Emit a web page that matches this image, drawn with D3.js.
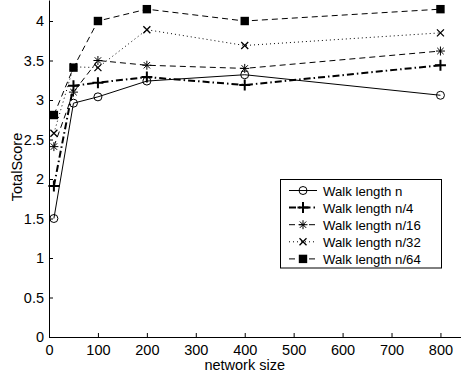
<!DOCTYPE html>
<html>
<head>
<meta charset="utf-8">
<script src="https://cdn.jsdelivr.net/npm/d3@7"></script>
<style>
  html, body { margin: 0; padding: 0; background: #fff; }
  svg { display: block; font-family: "Liberation Sans", Arial, sans-serif; }
</style>
</head>
<body>
<div id="chart"></div>
<script>
// network sizes on the x axis
const networkSizes = [10, 50, 100, 200, 400, 800];

// TotalScore for each walk length
const walkN = [1.50, 2.96, 3.04, 3.24, 3.32, 3.06];
const walkN4 = [1.91, 3.18, 3.22, 3.29, 3.19, 3.44];
const walkN16 = [2.41, 3.10, 3.50, 3.44, 3.40, 3.62];
const walkN32 = [2.58, 3.42, 3.41, 3.89, 3.69, 3.85];
const walkN64 = [2.81, 3.41, 4.00, 4.15, 4.00, 4.15];

const seriesNames = ['Walk length n', 'Walk length n/4', 'Walk length n/16', 'Walk length n/32', 'Walk length n/64'];

const xTicks = [0, 100, 200, 300, 400, 500, 600, 700, 800];
const yTicks = [0, 0.5, 1, 1.5, 2, 2.5, 3, 3.5, 4];

const width = 461, height = 376;
const margin = { left: 49, bottom: 337 };

const svg = d3.select('#chart').append('svg')
  .attr('width', width)
  .attr('height', height);

// axes run off the picture on the top and right side (cropped figure)
const x = d3.scaleLinear().domain([0, 842]).range([margin.left, 461]);
const y = d3.scaleLinear().domain([0, 4.266]).range([margin.bottom, 0]);

const series = [
  { name: seriesNames[0], values: walkN, dash: null, width: 1, marker: 'circle' },
  { name: seriesNames[1], values: walkN4, dash: '7,3,1.5,3', width: 2, marker: 'plus' },
  { name: seriesNames[2], values: walkN16, dash: '6,4', width: 1, marker: 'star' },
  { name: seriesNames[3], values: walkN32, dash: '1,3', width: 1, marker: 'cross' },
  { name: seriesNames[4], values: walkN64, dash: '6,4', width: 1, marker: 'square' },
];

// x axis
svg.append('g')
  .attr('transform', `translate(0,${margin.bottom})`)
  .call(d3.axisBottom(x).tickValues(xTicks).tickSizeInner(-4).tickSizeOuter(0).tickPadding(8))
  .call(g => g.select('.domain').attr('stroke', '#000'))
  .call(g => g.selectAll('.tick line').attr('stroke', '#000'))
  .call(g => g.selectAll('.tick text')
    .attr('fill', '#000')
    .attr('font-size', 14.5)
    .attr('font-family', '"Liberation Sans", Arial, sans-serif'));

// y axis
svg.append('g')
  .attr('transform', `translate(${margin.left},0)`)
  .call(d3.axisLeft(y).tickValues(yTicks).tickFormat(d3.format('')).tickSizeInner(-4).tickSizeOuter(0).tickPadding(5))
  .call(g => g.select('.domain').attr('stroke', '#000'))
  .call(g => g.selectAll('.tick line').attr('stroke', '#000'))
  .call(g => g.selectAll('.tick text')
    .attr('fill', '#000')
    .attr('font-size', 14.5)
    .attr('font-family', '"Liberation Sans", Arial, sans-serif'));

// axis labels
svg.append('text')
  .attr('x', x(400))
  .attr('y', 370)
  .attr('text-anchor', 'middle')
  .attr('font-size', 14.5)
  .text('network size');

svg.append('text')
  .attr('transform', 'translate(22,167) rotate(-90)')
  .attr('text-anchor', 'middle')
  .attr('font-size', 14.5)
  .text('TotalScore');

// marker drawing
function drawMarker(g, type, cx, cy) {
  const m = g.append('g').attr('transform', `translate(${cx},${cy})`);
  if (type === 'circle') {
    m.append('circle').attr('r', 4).attr('fill', 'none').attr('stroke', '#000').attr('stroke-width', 1);
  } else if (type === 'plus') {
    m.append('path').attr('d', 'M-5.5,0H5.5M0,-5.5V5.5').attr('stroke', '#000').attr('stroke-width', 2);
  } else if (type === 'star') {
    m.append('path').attr('d', 'M-4.5,0H4.5M0,-4.5V4.5M-3.2,-3.2L3.2,3.2M-3.2,3.2L3.2,-3.2')
      .attr('stroke', '#000').attr('stroke-width', 1);
  } else if (type === 'cross') {
    m.append('path').attr('d', 'M-3.5,-3.5L3.5,3.5M-3.5,3.5L3.5,-3.5').attr('stroke', '#000').attr('stroke-width', 1.3);
  } else if (type === 'square') {
    m.append('rect').attr('x', -4.2).attr('y', -4.2).attr('width', 8.4).attr('height', 8.4).attr('fill', '#000');
  }
}

const line = d3.line()
  .x((d, i) => x(networkSizes[i]))
  .y(d => y(d));

const plot = svg.append('g');
series.forEach(s => {
  plot.append('path')
    .datum(s.values)
    .attr('fill', 'none')
    .attr('stroke', '#000')
    .attr('stroke-width', s.width)
    .attr('stroke-dasharray', s.dash)
    .attr('d', line);
  s.values.forEach((v, i) => drawMarker(plot, s.marker, x(networkSizes[i]), y(v)));
});

// legend
const legend = svg.append('g');
legend.append('rect')
  .attr('x', 280.5).attr('y', 179.5)
  .attr('width', 161).attr('height', 88.5)
  .attr('fill', '#fff').attr('stroke', '#000').attr('stroke-width', 1);

series.forEach((s, i) => {
  const ry = 190.5 + i * 17.1;
  legend.append('line')
    .attr('x1', 289).attr('x2', 317).attr('y1', ry).attr('y2', ry)
    .attr('stroke', '#000')
    .attr('stroke-width', s.width)
    .attr('stroke-dasharray', s.dash);
  drawMarker(legend, s.marker, 303, ry);
  legend.append('text')
    .attr('x', 323).attr('y', ry + 5)
    .attr('font-size', 13.2)
    .text(s.name);
});
</script>
</body>
</html>
